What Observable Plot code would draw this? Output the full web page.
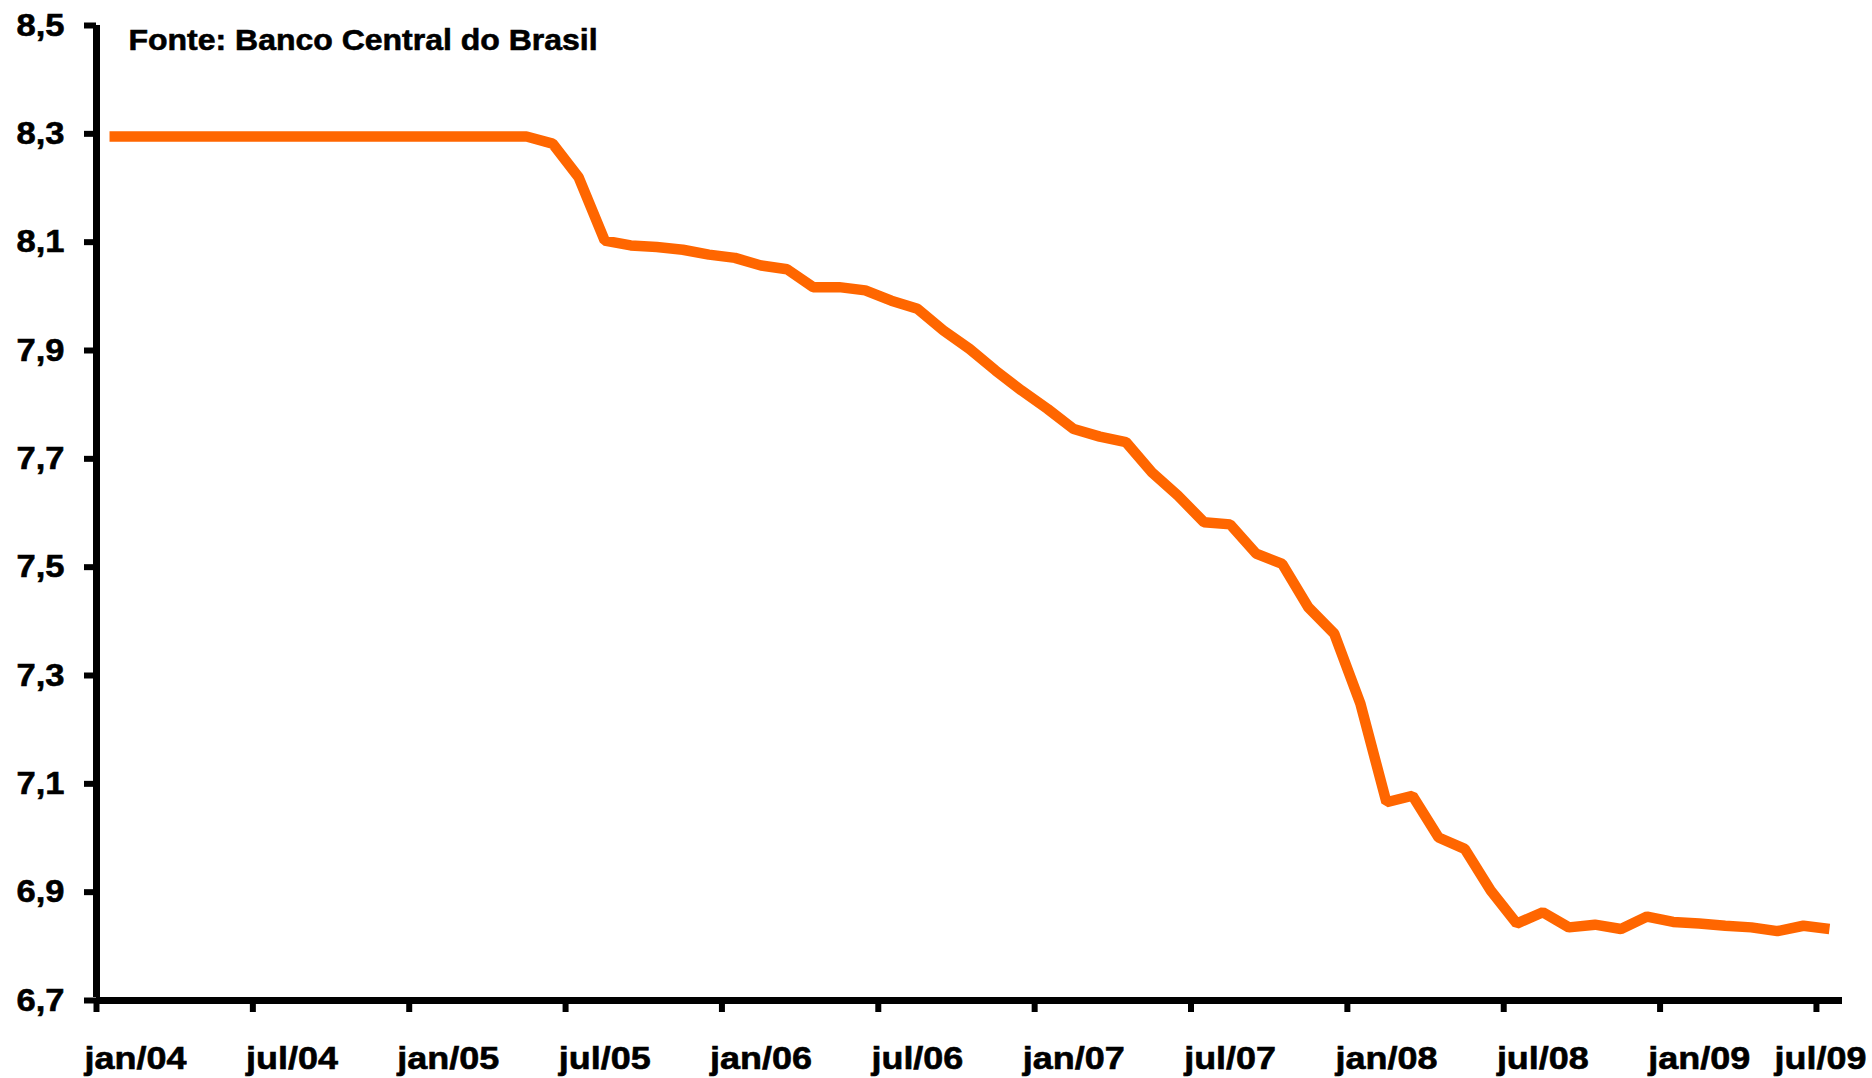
<!DOCTYPE html>
<html>
<head>
<meta charset="utf-8">
<script src="https://cdn.jsdelivr.net/npm/d3@7"></script>
<script src="https://cdn.jsdelivr.net/npm/@observablehq/plot@0.6"></script>
<style>
  html, body { margin: 0; padding: 0; background: #ffffff; }
  #chart { width: 1872px; height: 1078px; overflow: hidden; }
</style>
</head>
<body>
<div id="chart"></div>
<script>
// Month abbreviations (pt-BR) and years covered: jan/04 .. jul/09 (67 months)
const monthNames = ["jan","fev","mar","abr","mai","jun","jul","ago","set","out","nov","dez"];
const years = ["04","05","06","07","08","09"];
const categories = years.flatMap(y => monthNames.map(m => `${m}/${y}`)).slice(0, 67);

// Series values
const values = [
  8.295, 8.295, 8.295, 8.295, 8.295, 8.295, 8.295, 8.295, 8.295, 8.295, 8.295, 8.295,
  8.295, 8.295, 8.295, 8.295, 8.295, 8.282, 8.220, 8.103, 8.094, 8.091, 8.086, 8.077,
  8.071, 8.057, 8.050, 8.017, 8.017, 8.011, 7.992, 7.977, 7.937, 7.903, 7.863, 7.826,
  7.792, 7.755, 7.741, 7.731, 7.675, 7.632, 7.583, 7.579, 7.525, 7.506, 7.426, 7.377,
  7.248, 7.066, 7.078, 7.001, 6.980, 6.903, 6.842, 6.863, 6.835, 6.840, 6.832, 6.855,
  6.845, 6.842, 6.838, 6.835, 6.828, 6.838, 6.832
];

// Axis ticks / labels
const xTickLabels = ["jan/04","jul/04","jan/05","jul/05","jan/06","jul/06","jan/07","jul/07","jan/08","jul/08","jan/09","jul/09"];
const yTicks = [6.7, 6.9, 7.1, 7.3, 7.5, 7.7, 7.9, 8.1, 8.3, 8.5];
const sourceText = "Fonte: Banco Central do Brasil";

const data = values.map((v, i) => ({month: categories[i], idx: i, value: v}));
const xTickIdx = xTickLabels.map(l => categories.indexOf(l));
const labelOf = new Map(xTickIdx.map((k, i) => [k, xTickLabels[i]]));

const W = 1872, H = 1078;
const mL = 96, mR = 30, mT = 25, mB = 78;
const step = (W - mL - mR) / categories.length;
const font = "'Liberation Sans', Arial, Helvetica, sans-serif";
const orange = "#FF6600";

const chart = Plot.plot({
  width: W,
  height: H,
  marginLeft: mL,
  marginRight: mR,
  marginTop: mT,
  marginBottom: mB,
  style: {fontFamily: font, fontWeight: "bold", background: "#ffffff", color: "#000000", overflow: "visible"},
  x: {type: "linear", domain: [0, categories.length], axis: null},
  y: {domain: [6.7, 8.5], axis: null},
  marks: [
    // data line (category centres)
    Plot.line(data, {
      x: d => d.idx + 0.5,
      y: "value",
      stroke: orange,
      strokeWidth: 10.5,
      strokeLinejoin: "miter",
      strokeLinecap: "butt"
    }),
    // y axis ticks + labels
    Plot.axisY({
      ticks: yTicks,
      tickSize: 12,
      strokeWidth: 6,
      tickPadding: 20,
      fontSize: 32,
      fontWeight: "bold",
      label: null,
      tickFormat: d => d.toFixed(1).replace(".", ",")
    }),
    // x axis ticks (category boundaries)
    Plot.axisX({
      ticks: xTickIdx,
      tickSize: 12,
      strokeWidth: 6,
      text: null,
      label: null,
      tickFormat: null
    }),
    // x tick labels
    Plot.axisX({
      ticks: xTickIdx.slice(0, -1),
      tickSize: 0,
      tickPadding: 46,
      fontSize: 31,
      fontWeight: "bold",
      label: null,
      dx: step * 1.5,
      tickFormat: d => labelOf.get(d)
    }),
    Plot.axisX({
      ticks: xTickIdx.slice(-1),
      tickSize: 0,
      tickPadding: 46,
      fontSize: 31,
      fontWeight: "bold",
      label: null,
      dx: 4,
      tickFormat: d => labelOf.get(d)
    }),
    // axis lines
    Plot.ruleY([6.7], {stroke: "#000", strokeWidth: 7, x1: 0, x2: categories.length}),
    Plot.ruleX([0], {y1: 6.7, y2: 8.5, stroke: "#000", strokeWidth: 7, insetTop: -3}),
    // source note
    Plot.text([sourceText], {
      frameAnchor: "top-left",
      text: d => d,
      textAnchor: "start",
      lineAnchor: "top",
      dx: 32,
      dy: 3,
      fontSize: 30,
      fontWeight: "bold",
      fill: "#000"
    })
  ]
});

document.getElementById("chart").appendChild(chart);

// widen glyphs slightly (reference text is horizontally stretched) and thicken strokes
function stretch(selector, factor) {
  chart.querySelectorAll(selector).forEach(t => {
    const w = t.getComputedTextLength();
    t.setAttribute("textLength", (w * factor).toFixed(1));
    t.setAttribute("lengthAdjust", "spacingAndGlyphs");
    t.setAttribute("stroke", "#000");
    t.setAttribute("stroke-width", "0.6");
  });
}
stretch('g[aria-label="x-axis tick label"] text', 1.16);
stretch('g[aria-label="y-axis tick label"] text', 1.08);
stretch('g[aria-label="text"] text', 1.066);
</script>
</body>
</html>
